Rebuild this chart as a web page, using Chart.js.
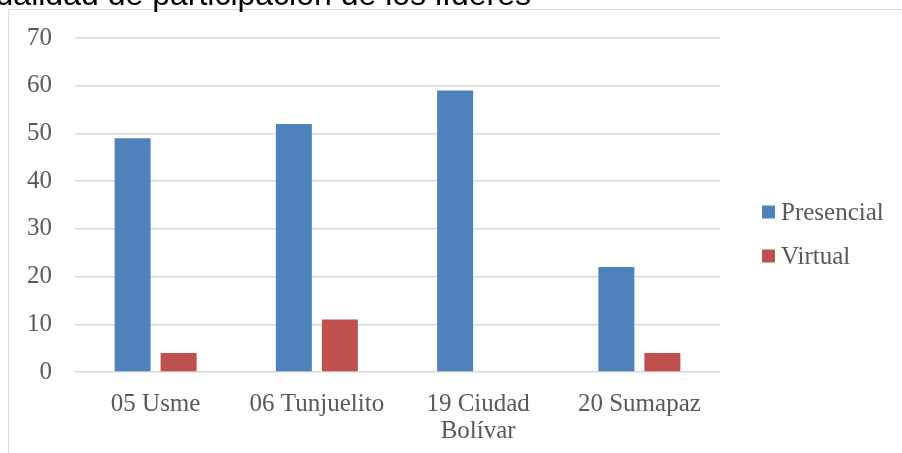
<!DOCTYPE html>
<html lang="es">
<head>
<meta charset="utf-8">
<title>Modalidad de participación de los líderes</title>
<script src="https://cdn.jsdelivr.net/npm/chart.js@4.4.1/dist/chart.umd.min.js"></script>
<style>
  html, body { margin: 0; padding: 0; background: #ffffff; overflow: hidden; }
  #wrap { position: relative; width: 902px; height: 453px; }
  canvas { display: block; }
</style>
</head>
<body>
<div id="wrap"><canvas id="chart" width="902" height="453"></canvas></div>
<script>
// Localidades (eje X) y asistentes por modalidad
const categories = [['05 Usme'], ['06 Tunjuelito'], ['19 Ciudad', 'Bolívar'], ['20 Sumapaz']];
const presencial = [49, 52, 59, 22];
const virtual = [4, 11, 0, 4];
const seriesNames = ['Presencial', 'Virtual'];
const yTicks = [0, 10, 20, 30, 40, 50, 60, 70];
const chartTitle = 'Modalidad de participación de los líderes';

const BLUE = '#4f81bd';
const RED = '#c0504d';
const GRID = '#d9d9d9';
const TEXT = '#595959';
const SERIF = '"Liberation Serif", "Times New Roman", serif';

// Marco, título y leyenda dibujados sobre el lienzo
const decorations = {
  id: 'decorations',
  afterDraw(chart) {
    const ctx = chart.ctx;
    ctx.save();
    // marco del gráfico
    ctx.strokeStyle = GRID;
    ctx.lineWidth = 1;
    ctx.beginPath();
    ctx.moveTo(8.5, 453);
    ctx.lineTo(8.5, 9.5);
    ctx.lineTo(902, 9.5);
    ctx.stroke();

    // título
    ctx.fillStyle = '#000000';
    ctx.font = '32px "Liberation Sans", Arial, sans-serif';
    ctx.textAlign = 'right';
    ctx.textBaseline = 'alphabetic';
    ctx.fillText(chartTitle, 531, 5);

    // leyenda
    ctx.font = '25px ' + SERIF;
    ctx.textAlign = 'left';
    ctx.textBaseline = 'middle';
    chart.data.datasets.forEach((ds, i) => {
      const cy = 212 + i * 44;
      ctx.fillStyle = ds.backgroundColor;
      ctx.fillRect(762, cy - 6.5, 13, 13);
      ctx.fillStyle = TEXT;
      ctx.fillText(ds.label, 781, cy + 1);
    });
    ctx.restore();
  }
};

new Chart(document.getElementById('chart'), {
  type: 'bar',
  data: {
    labels: categories,
    datasets: [
      { label: seriesNames[0], data: presencial, backgroundColor: BLUE, borderWidth: 0 },
      { label: seriesNames[1], data: virtual, backgroundColor: RED, borderWidth: 0 }
    ]
  },
  options: {
    responsive: false,
    animation: false,
    devicePixelRatio: 1,
    categoryPercentage: 0.5705,
    barPercentage: 0.7826,
    layout: { padding: { top: 37, right: 182, left: 0, bottom: 0 } },
    plugins: {
      legend: { display: false },
      title: { display: false },
      tooltip: { enabled: false }
    },
    scales: {
      x: {
        grid: { display: false, drawTicks: false },
        border: { display: false },
        ticks: {
          color: TEXT,
          font: { family: SERIF, size: 25, lineHeight: 1.08 },
          padding: 19,
          maxRotation: 0,
          autoSkip: false
        },
        afterFit(scale) { scale.height = 81; }
      },
      y: {
        min: 0,
        max: 70,
        afterBuildTicks(scale) { scale.ticks = yTicks.map(v => ({ value: v })); },
        grid: { color: GRID, lineWidth: 1.5, drawTicks: false },
        border: { display: false },
        ticks: {
          color: TEXT,
          font: { family: SERIF, size: 25 },
          padding: 23
        },
        afterFit(scale) { scale.width = 75; }
      }
    }
  },
  plugins: [decorations]
});
</script>
</body>
</html>
